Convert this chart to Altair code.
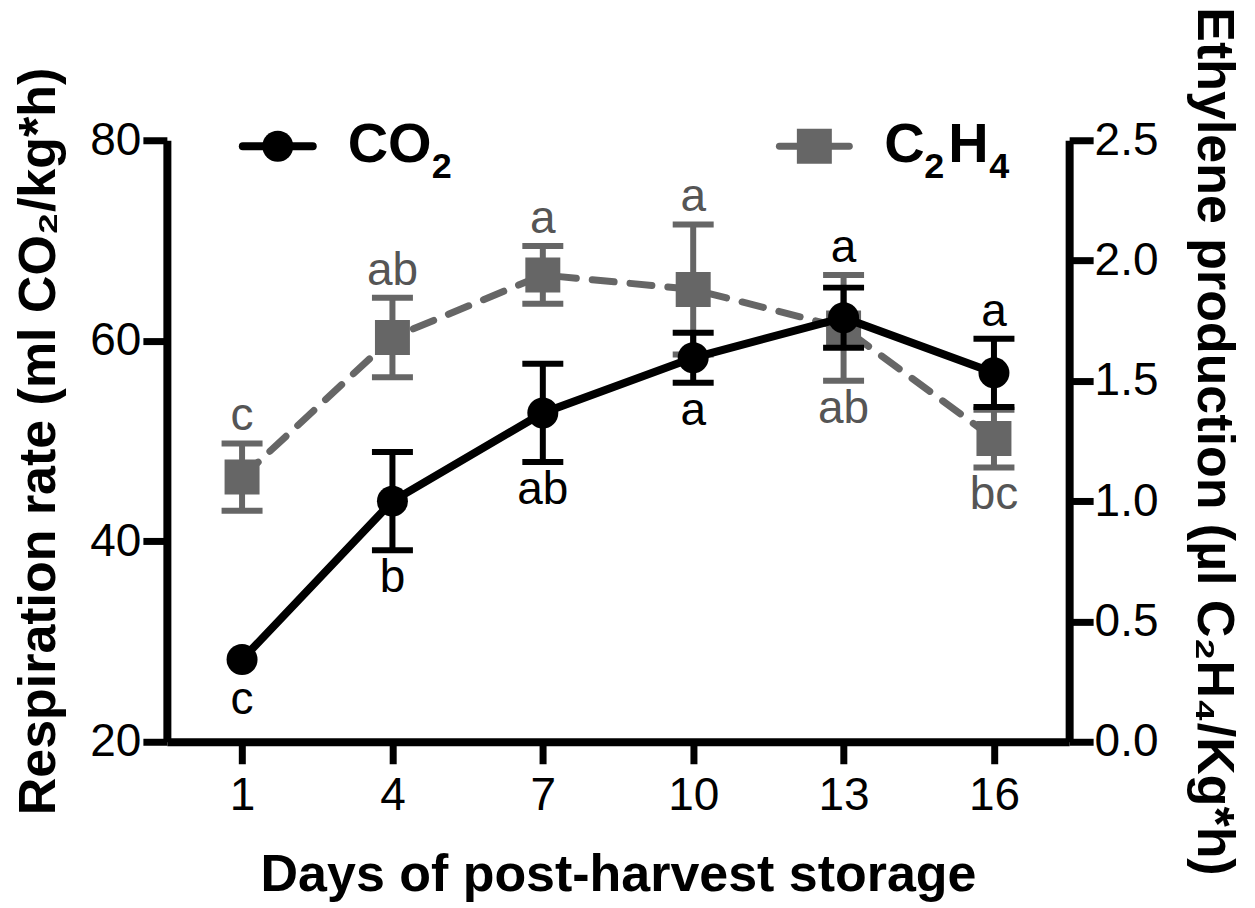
import altair as alt
import pandas as pd

# ---------------- data ----------------
days = [1, 4, 7, 10, 13, 16]
co2_mean = [28.2, 44.0, 52.8, 58.3, 62.3, 56.8]
co2_sd = [1.2, 4.9, 4.9, 2.5, 3.0, 3.4]
co2_letters = ["c", "b", "ab", "a", "a", "a"]
co2_side = ["below", "below", "below", "below", "above", "above"]

c2h4_mean = [1.10, 1.68, 1.94, 1.88, 1.72, 1.26]
c2h4_sd = [0.14, 0.165, 0.12, 0.27, 0.22, 0.12]
c2h4_letters = ["c", "ab", "a", "a", "ab", "bc"]
c2h4_side = ["above", "above", "above", "above", "below", "below"]

x_ticks = [1, 4, 7, 10, 13, 16]
left_ticks = [20, 40, 60, 80]
right_ticks = [0.0, 0.5, 1.0, 1.5, 2.0, 2.5]
X_DOMAIN = [-0.5, 17.5]
LEFT_DOMAIN = [20, 80]
RIGHT_DOMAIN = [0, 2.5]

FONT = "Liberation Sans"
BLACK = "#000000"
GRAY = "#666666"
GRAY_TEXT = "#555555"

# error bars shorter than the marker radius are hidden (as in the original software)
CO2_HIDE_BELOW = 1.75     # left-axis units ~ marker radius
C2H4_HIDE_BELOW = 0.073   # right-axis units ~ marker radius

# ---------------- table ----------------
df = pd.DataFrame({
    "day": days,
    "co2": co2_mean, "co2_sd": co2_sd, "co2_let": co2_letters, "co2_side": co2_side,
    "c2h4": c2h4_mean, "c2h4_sd": c2h4_sd, "c2h4_let": c2h4_letters, "c2h4_side": c2h4_side,
})
df["co2_lo"] = df["co2"] - df["co2_sd"]
df["co2_hi"] = df["co2"] + df["co2_sd"]
df["c2h4_lo"] = df["c2h4"] - df["c2h4_sd"]
df["c2h4_hi"] = df["c2h4"] + df["c2h4_sd"]

k = (LEFT_DOMAIN[1] - LEFT_DOMAIN[0]) / (RIGHT_DOMAIN[1] - RIGHT_DOMAIN[0])
to_left = lambda v: LEFT_DOMAIN[0] + (v - RIGHT_DOMAIN[0]) * k
to_right = lambda v: RIGHT_DOMAIN[0] + (v - LEFT_DOMAIN[0]) / k

top_l = pd.concat([df["co2_hi"], to_left(df["c2h4_hi"])], axis=1).max(axis=1)
bot_l = pd.concat([df["co2_lo"], to_left(df["c2h4_lo"])], axis=1).min(axis=1)
df["co2_lab_y"] = top_l.where(df["co2_side"] == "above", bot_l)
df["c2h4_lab_y"] = to_right(top_l).where(df["c2h4_side"] == "above", to_right(bot_l))

# ---------------- axes ----------------
x_axis = alt.Axis(
    values=x_ticks, grid=False, title="Days of post-harvest storage",
    domainWidth=8, domainColor=BLACK, tickWidth=7, tickSize=22, tickColor=BLACK,
    labelFont=FONT, labelFontSize=46, labelColor=BLACK, labelPadding=10, labelFlush=False,
    titleFont=FONT, titleFontSize=52, titleFontWeight="bold", titleColor=BLACK,
    titleBaseline="alphabetic", titleY=149,
)
left_axis = alt.Axis(
    orient="left", values=left_ticks, grid=False,
    title="Respiration rate (ml  CO₂/kg*h)",
    domainWidth=8, domainColor=BLACK, tickWidth=7, tickSize=24, tickColor=BLACK,
    labelFont=FONT, labelFontSize=46, labelColor=BLACK, labelPadding=2,
    titleFont=FONT, titleFontSize=52, titleFontWeight="bold", titleColor=BLACK,
    titleAngle=270, titleBaseline="alphabetic", titleAlign="center", titleX=-112, titleY=301,
)
right_axis = alt.Axis(
    orient="right", values=right_ticks, format=".1f", grid=False,
    title="Ethylene production (µl C₂H₄/Kg*h)",
    domainWidth=8, domainColor=BLACK, tickWidth=7, tickSize=24, tickColor=BLACK,
    labelFont=FONT, labelFontSize=46, labelColor=BLACK, labelPadding=1,
    titleFont=FONT, titleFontSize=52, titleFontWeight="bold", titleColor=BLACK,
    titleAngle=90, titleBaseline="alphabetic", titleAlign="center", titleX=128, titleY=301,
)


def X():
    return alt.X("day:Q", scale=alt.Scale(domain=X_DOMAIN, nice=False, zero=False), axis=x_axis)


def YL(field):
    return alt.Y(f"{field}:Q", scale=alt.Scale(domain=LEFT_DOMAIN, nice=False, zero=False), axis=left_axis)


def YR(field):
    return alt.Y(f"{field}:Q", scale=alt.Scale(domain=RIGHT_DOMAIN, nice=False, zero=False), axis=right_axis)


base = alt.Chart(df)
LBL = dict(font=FONT, fontSize=46, baseline="alphabetic")

# ---------------- C2H4 (gray, right axis) ----------------
g_show = alt.datum.c2h4_sd > C2H4_HIDE_BELOW
g_line = base.mark_line(color=GRAY, strokeWidth=7, strokeDash=[22, 16], strokeCap="round").encode(x=X(), y=YR("c2h4"))
g_err = base.mark_rule(color=GRAY, strokeWidth=6).encode(x=X(), y=YR("c2h4_lo"), y2=alt.Y2("c2h4_hi")).transform_filter(g_show)
g_cap_lo = base.mark_tick(color=GRAY, orient="horizontal", size=41, thickness=6, opacity=1).encode(x=X(), y=YR("c2h4_lo")).transform_filter(g_show)
g_cap_hi = base.mark_tick(color=GRAY, orient="horizontal", size=41, thickness=6, opacity=1).encode(x=X(), y=YR("c2h4_hi")).transform_filter(g_show)
g_pts = base.mark_point(shape="square", filled=True, size=1225, color=GRAY, opacity=1, strokeWidth=0).encode(x=X(), y=YR("c2h4"))
g_txt_up = base.mark_text(color=GRAY_TEXT, dy=-13, **LBL).encode(
    x=X(), y=YR("c2h4_lab_y"), text="c2h4_let:N").transform_filter(alt.datum.c2h4_side == "above")
g_txt_dn = base.mark_text(color=GRAY_TEXT, dy=42, **LBL).encode(
    x=X(), y=YR("c2h4_lab_y"), text="c2h4_let:N").transform_filter(alt.datum.c2h4_side == "below")
gray = alt.layer(g_line, g_err, g_cap_lo, g_cap_hi, g_pts, g_txt_up, g_txt_dn)

# ---------------- CO2 (black, left axis) ----------------
b_show = alt.datum.co2_sd > CO2_HIDE_BELOW
b_line = base.mark_line(color=BLACK, strokeWidth=8).encode(x=X(), y=YL("co2"))
b_err = base.mark_rule(color=BLACK, strokeWidth=6).encode(x=X(), y=YL("co2_lo"), y2=alt.Y2("co2_hi")).transform_filter(b_show)
b_cap_lo = base.mark_tick(color=BLACK, orient="horizontal", size=41, thickness=6, opacity=1).encode(x=X(), y=YL("co2_lo")).transform_filter(b_show)
b_cap_hi = base.mark_tick(color=BLACK, orient="horizontal", size=41, thickness=6, opacity=1).encode(x=X(), y=YL("co2_hi")).transform_filter(b_show)
b_pts = base.mark_point(shape="circle", filled=True, size=962, color=BLACK, opacity=1, strokeWidth=0).encode(x=X(), y=YL("co2"))
b_txt_up = base.mark_text(color=BLACK, dy=-13, **LBL).encode(
    x=X(), y=YL("co2_lab_y"), text="co2_let:N").transform_filter(alt.datum.co2_side == "above")
b_txt_dn = base.mark_text(color=BLACK, dy=42, **LBL).encode(
    x=X(), y=YL("co2_lab_y"), text="co2_let:N").transform_filter(alt.datum.co2_side == "below")
black = alt.layer(b_line, b_err, b_cap_lo, b_cap_hi, b_pts, b_txt_up, b_txt_dn)

# ---------------- legend (drawn inside the plot, top) ----------------
one = alt.Chart(pd.DataFrame({"k": [0]}))
BIG = dict(font=FONT, fontSize=56, fontWeight="bold", color=BLACK, align="left", baseline="alphabetic")
SUB = dict(font=FONT, fontSize=36, fontWeight="bold", color=BLACK, align="left", baseline="alphabetic")
leg = alt.layer(
    one.mark_rule(color=BLACK, strokeWidth=8, strokeCap="round").encode(x=alt.value(76), x2=alt.value(146), y=alt.value(6)),
    one.mark_point(shape="circle", filled=True, size=962, color=BLACK, opacity=1, strokeWidth=0).encode(x=alt.value(111), y=alt.value(6)),
    one.mark_text(**BIG).encode(x=alt.value(181), y=alt.value(22), text=alt.value("CO")),
    one.mark_text(**SUB).encode(x=alt.value(265), y=alt.value(38), text=alt.value("2")),
    one.mark_rule(color=GRAY, strokeWidth=7, strokeCap="round").encode(x=alt.value(613), x2=alt.value(683), y=alt.value(6)),
    one.mark_point(shape="square", filled=True, size=1225, color=GRAY, opacity=1, strokeWidth=0).encode(x=alt.value(648), y=alt.value(6)),
    one.mark_text(**BIG).encode(x=alt.value(718), y=alt.value(22), text=alt.value("C")),
    one.mark_text(**SUB).encode(x=alt.value(758), y=alt.value(38), text=alt.value("2")),
    one.mark_text(**BIG).encode(x=alt.value(782), y=alt.value(22), text=alt.value("H")),
    one.mark_text(**SUB).encode(x=alt.value(823), y=alt.value(38), text=alt.value("4")),
)

chart = alt.layer(gray, black, leg).resolve_scale(y="independent").properties(
    width=903, height=602,
    padding={"left": 159, "top": 132, "right": 178, "bottom": 162},
    autosize=alt.AutoSizeParams(type="none"),
    background="white",
).configure_view(stroke=None)

chart.save("out.html", embed_options={"renderer": "svg", "actions": False})
